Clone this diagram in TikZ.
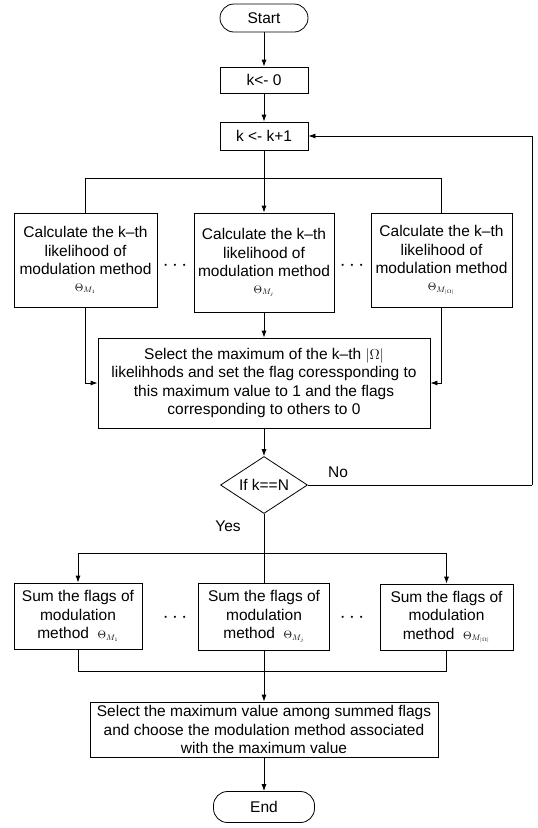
\documentclass[tikz,border=0pt]{standalone}
\usepackage{fontspec}
\setmainfont{Liberation Sans}
\usetikzlibrary{arrows.meta,shapes.geometric}
\begin{document}
\begin{tikzpicture}[x=1pt,y=-1pt,
  every node/.style={font=\fontsize{15.5}{18.5}\selectfont},
  box/.style={draw,line width=0.8pt,rectangle,align=center,inner sep=0pt},
  term/.style={draw,line width=0.8pt,rounded corners=14pt,align=center,inner sep=0pt},
  cond/.style={draw,line width=0.8pt,diamond,aspect=1.5,inner sep=0pt,minimum width=87pt,minimum height=57pt},
  conn/.style={line width=0.8pt},
  arr/.style={line width=0.8pt,-{Latex[length=7pt,width=5pt]}},
  dotsnode/.style={font=\fontsize{20}{20}\selectfont}]
\useasboundingbox (0,0) rectangle (538,828);
\newcommand{\thsz}[1]{{\fontsize{11}{12}\selectfont$#1$}}

\node[term,minimum width=88pt,minimum height=28pt] (start) at (264,18) {Start};
\node[box,minimum width=88pt,minimum height=26pt] (k0) at (264,80) {k<- 0};
\node[box,minimum width=88pt,minimum height=28pt] (k1) at (264,136) {k <- k+1};

\node[box,minimum width=143pt,minimum height=94pt] (c1) at (85.5,260) {Calculate the k–th\\likelihood of\\modulation method\\[-2pt]\thsz{\Theta_{M_1}}};
\node[box,minimum width=140pt,minimum height=99pt] (c2) at (264,262.5) {Calculate the k–th\\likelihood of\\modulation method\\[-2pt]\thsz{\Theta_{M_j}}};
\node[box,minimum width=141pt,minimum height=94pt] (c3) at (441.5,260) {Calculate the k–th\\likelihood of\\modulation method\\[-2pt]\thsz{\Theta_{M_{|\Omega|}}}};
\node[dotsnode] (d1) at (175,266) {$\cdots$};
\node[dotsnode] (d2) at (352,266) {$\cdots$};

\coordinate (tl) at (85.5,178);
\coordinate (tr) at (441.5,178);
\coordinate (tm) at (264,178);

\node[box,minimum width=332pt,minimum height=90pt] (sel) at (264,383) {Select the maximum of the k–th $|\Omega|$\\likelihhods and set the flag coressponding to\\this maximum value to 1 and the flags\\corresponding to others to 0};

\node[cond] (dia) at (264,485) {If k==N};
\node (no) at (338,472) {No};
\node (yes) at (228,526) {Yes};
\coordinate (lp) at (532,485);
\coordinate (lq) at (532,136);

\coordinate (bl) at (78,553);
\coordinate (br) at (446.5,553);

\node[box,minimum width=128pt,minimum height=66pt] (s1) at (78,616) {Sum the flags of\\modulation\\method \ \thsz{\Theta_{M_1}}};
\node[box,minimum width=131pt,minimum height=67pt] (s2) at (264,616.5) {Sum the flags of\\modulation\\method \ \thsz{\Theta_{M_j}}};
\node[box,minimum width=133pt,minimum height=66pt] (s3) at (446.5,617) {Sum the flags of\\modulation\\method \ \thsz{\Theta_{M_{|\Omega|}}}};
\node[dotsnode] (d3) at (175,618) {$\cdots$};
\node[dotsnode] (d4) at (352,618) {$\cdots$};

\coordinate (ul) at (78,671);
\coordinate (ur) at (446.5,671);
\coordinate (um) at (264,671);

\node[box,minimum width=348pt,minimum height=55pt] (fin) at (264,729.5) {Select the maximum value among summed flags\\and choose the modulation method associated\\with the maximum value};
\node[term,minimum width=101pt,minimum height=31pt] (end) at (264,807) {End};

\draw[arr] (start) -- (k0);
\draw[arr] (k0) -- (k1);
\draw[conn] (k1) -- (tm);
\draw[conn] (tl) -- (tr);
\draw[conn] (tl) -- (c1.north);
\draw[arr] (tm) -- (c2.north);
\draw[conn] (tr) -- (c3.north);
\draw[arr] (c1.south) |- (sel.west);
\draw[arr] (c3.south) |- (sel.east);
\draw[arr] (c2.south) -- (sel.north);
\draw[arr] (sel) -- (dia);
\draw[conn] (dia.east) -- (lp);
\draw[arr] (lp) -- (lq) -- (k1.east);
\draw[conn] (dia.south) -- (s2.north);
\draw[conn] (bl) -- (br);
\draw[arr] (bl) -- (s1.north);
\draw[arr] (br) -- (s3.north);
\draw[conn] (s1.south) -- (ul) -- (ur) -- (s3.south);
\draw[conn] (s2.south) -- (um);
\draw[arr] (um) -- (fin.north);
\draw[arr] (fin) -- (end);
\end{tikzpicture}
\end{document}
